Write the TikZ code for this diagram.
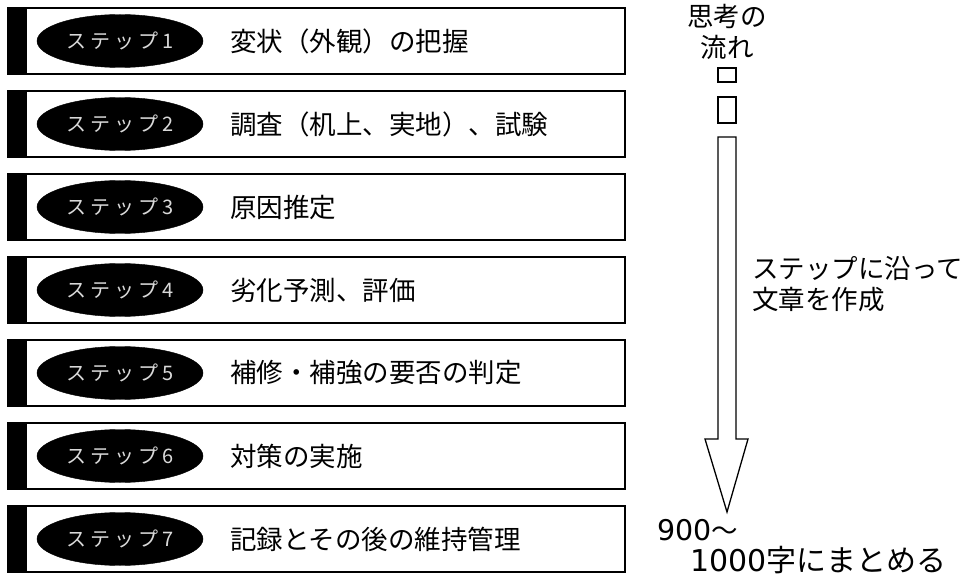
\documentclass[tikz,border=0pt]{standalone}
\usepackage{fontspec}
\newfontfamily\jp{Noto Sans CJK JP}
\newfontfamily\jpwide[LetterSpace=20]{Noto Sans CJK JP}
\newfontfamily\digits{DejaVu Sans}
\usetikzlibrary{shapes.geometric}
\begin{document}
\begin{tikzpicture}[x=1pt,y=-1pt,
  stepbox/.style={draw, line width=1.8pt, minimum width=617pt, minimum height=66pt, inner sep=0pt, outer sep=0pt},
  pill/.style={ellipse, fill=black, draw=black, minimum width=166pt, minimum height=53pt, inner sep=0pt, text=white!85!black, font=\jpwide\fontsize{20}{20}\selectfont},
  steplabel/.style={anchor=west, font=\jp\fontsize{26.5}{26.5}\selectfont, inner sep=0pt},
  side/.style={font=\jp\fontsize{26.5}{31}\selectfont, inner sep=0pt},
  bigside/.style={font=\jp\fontsize{30}{30}\selectfont, inner sep=0pt},
  outline/.style={draw, line width=1.3pt}]
\useasboundingbox (0,0) rectangle (980,580);
\foreach \i/\t in {1/{変状（外観）の把握},2/{調査（机上、実地）、試験},3/{原因推定},4/{劣化予測、評価},5/{補修・補強の要否の判定},6/{対策の実施},7/{記録とその後の維持管理}} {
  \pgfmathsetmacro\cy{41+83*(\i-1)}
  \node[stepbox] (box\i) at (316.5,\cy) {};
  \fill (box\i.north west) rectangle ([xshift=19pt]box\i.south west);
  \node[pill] (e\i) at (120,\cy) {ステップ\i};
  \node[steplabel] (t\i) at (230,\cy) {\t};
}
\node[side, align=center] (think) at (727,32) {思考の\\流れ};
\draw[outline] (718,68) rectangle (736,82);
\draw[outline] (718,97) rectangle (736,123);
\draw[outline] (718,137) -- (718,439) -- (705,439) -- (727,512) -- (748,439) -- (736,439) -- (736,137) -- cycle;
\node[side, align=left, anchor=west] (write) at (752,284) {ステップに沿って\\文章を作成};
\node[side, anchor=west] (n1) at (657,530) {{\digits\fontsize{28.5}{28.5}\selectfont 900}〜};
\node[bigside, anchor=west] (n2) at (690,560) {{\digits\fontsize{30}{30}\selectfont 1000}字にまとめる};
\end{tikzpicture}
\end{document}
